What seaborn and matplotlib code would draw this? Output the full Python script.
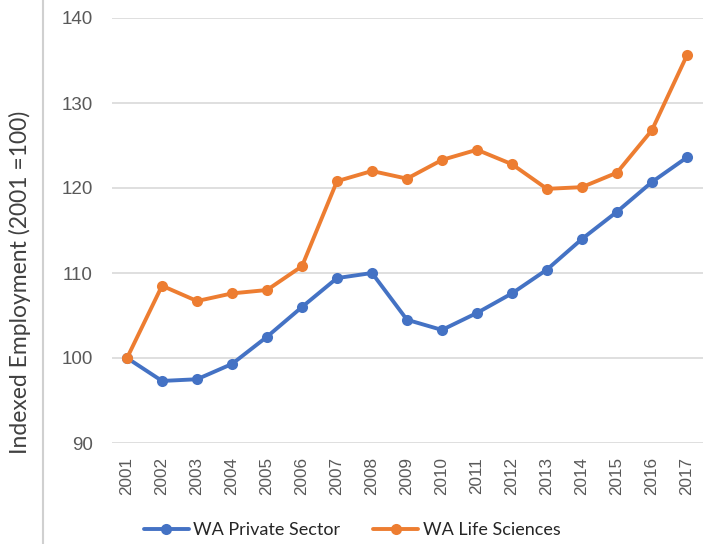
import pandas as pd
import numpy as np
import matplotlib.pyplot as plt
import matplotlib.lines as mlines
import seaborn as sns

# Data
years = [str(y) for y in range(2001, 2018)]
private_sector = [100.0, 97.3, 97.5, 99.3, 102.5, 106.0, 109.4, 110.0, 104.5,
                  103.3, 105.3, 107.6, 110.4, 114.0, 117.2, 120.7, 123.6]
life_sciences = [100.0, 108.5, 106.7, 107.6, 108.0, 110.8, 120.8, 122.0, 121.1,
                 123.3, 124.5, 122.8, 119.9, 120.1, 121.8, 126.8, 135.6]
series_names = ["WA Private Sector", "WA Life Sciences"]
colors = ["#4472C4", "#ED7D31"]

df = pd.DataFrame({
    "Year": years * 2,
    "Index": private_sector + life_sciences,
    "Series": [series_names[0]] * len(years) + [series_names[1]] * len(years),
})

# Settings
sns.set_theme(style="white")
plt.rcParams["font.family"] = ["Lato", "DejaVu Sans"]

fig = plt.figure(figsize=(7.03, 5.44), dpi=100)
ax = fig.add_axes([112 / 703, 1 - 443 / 544, (703 - 112) / 703, (443 - 18) / 544])

sns.lineplot(data=df, x="Year", y="Index", hue="Series", palette=colors,
             marker="o", markersize=8, markeredgewidth=0, linewidth=2.8,
             sort=False, ax=ax, legend=False)

ax.set_ylim(90, 140)
ax.set_yticks([90, 100, 110, 120, 130, 140])
ax.set_xlim(-0.43, 16.46)
ax.grid(axis="y", color="#D9D9D9", linewidth=1.2)
ax.set_axisbelow(True)
for s in ax.spines.values():
    s.set_visible(False)

ax.tick_params(axis="y", labelsize=13.5, labelcolor="#595959", length=0, pad=14)
ax.tick_params(axis="x", labelsize=12.3, labelcolor="#595959", length=0, pad=10)
for lbl in ax.get_xticklabels():
    lbl.set_rotation(90)
    lbl.set_family(["Liberation Sans", "DejaVu Sans"])
for lbl in ax.get_yticklabels():
    lbl.set_family(["Liberation Sans", "DejaVu Sans"])

ax.set_xlabel("")
ax.set_ylabel("")
fig.text(20 / 703, 1 - 282 / 544, "Indexed Employment (2001 =100)", rotation=90,
         ha="center", va="center", fontsize=16.5, color="#404040")

# left border line
fig.add_artist(mlines.Line2D([42.5 / 703, 42.5 / 703], [0, 1], color="#D0D0D0",
                             linewidth=1.5, transform=fig.transFigure))

handles = [mlines.Line2D([], [], color=c, marker="o", markersize=8,
                         markeredgewidth=0, linewidth=2.8) for c in colors]
fig.legend(handles, series_names, loc="center", bbox_to_anchor=(352 / 703, 1 - 530 / 544),
           ncol=2, frameon=False, fontsize=13, handlelength=2.5, handletextpad=0.25,
           columnspacing=1.8, labelcolor="#262626")

fig.savefig("out.png", dpi=100)
